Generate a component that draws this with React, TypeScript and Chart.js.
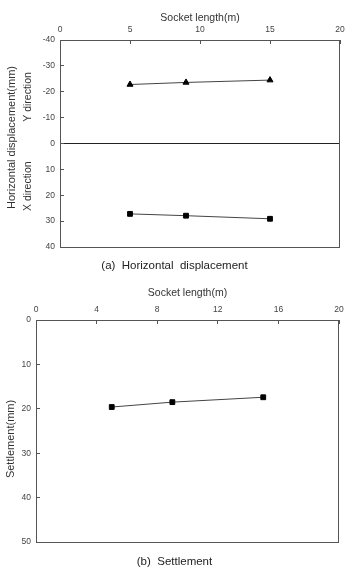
import React, { useEffect, useRef } from "react";
import { Chart, registerables } from "chart.js";

Chart.register(...registerables);

// ---- data ----
const socketLength = [5, 9, 15];
const yDirectionDisp = [-22.8, -23.6, -24.5];
const xDirectionDisp = [27.2, 27.9, 29.1];
const settlement = [19.6, 18.5, 17.4];

const xTicksA = [0, 5, 10, 15, 20];
const yTicksA = [-40, -30, -20, -10, 0, 10, 20, 30, 40];
const xTicksB = [0, 4, 8, 12, 16, 20];
const yTicksB = [0, 10, 20, 30, 40, 50];

const FONT = "'Liberation Sans', Arial, sans-serif";
const AXIS = "#555";
const TEXT = "#333";

function drawText(ctx: CanvasRenderingContext2D, text: string, x: number, y: number, size: number, rot = 0, color = TEXT) {
  ctx.save();
  ctx.translate(x, y);
  if (rot) ctx.rotate(rot);
  ctx.font = `${size}px ${FONT}`;
  ctx.fillStyle = color;
  ctx.textAlign = "center";
  ctx.textBaseline = "middle";
  ctx.fillText(text, 0, 0);
  ctx.restore();
}

function frame(chart: any) {
  const { ctx, chartArea: a } = chart;
  ctx.save();
  ctx.strokeStyle = AXIS;
  ctx.lineWidth = 1;
  ctx.strokeRect(Math.round(a.left) + 0.5, Math.round(a.top) + 0.5, Math.round(a.right - a.left) - 1, Math.round(a.bottom - a.top));
  ctx.restore();
}

function xScale(ticks: number[], title: string, titlePad: number, height: number) {
  return {
    type: "linear",
    position: "top",
    min: ticks[0],
    max: ticks[ticks.length - 1],
    afterBuildTicks: (s: any) => {
      s.ticks = ticks.map((v) => ({ value: v }));
    },
    afterFit: (s: any) => {
      s.height = height;
      s.paddingLeft = 0;
      s.paddingRight = 0;
    },
    grid: { drawOnChartArea: false, drawTicks: true, tickLength: -4, tickColor: AXIS, color: AXIS },
    border: { display: true, color: AXIS, width: 1 },
    ticks: { padding: 9, autoSkip: false, maxRotation: 0, color: "#444", font: { size: 8.5, family: FONT } },
    title: { display: true, text: title, color: TEXT, font: { size: 10.5, family: FONT }, padding: { top: titlePad, bottom: 0 } },
  };
}

function yScale(ticks: number[], width: number, zeroLine: boolean) {
  return {
    type: "linear",
    position: "left",
    reverse: true,
    min: ticks[0],
    max: ticks[ticks.length - 1],
    afterBuildTicks: (s: any) => {
      s.ticks = ticks.map((v) => ({ value: v }));
    },
    afterFit: (s: any) => {
      s.width = width;
      s.paddingTop = 0;
      s.paddingBottom = 0;
    },
    grid: {
      drawOnChartArea: zeroLine,
      drawTicks: true,
      tickLength: -4,
      tickColor: AXIS,
      color: (c: any) => (zeroLine && c.tick && c.tick.value === 0 ? "#222" : "rgba(0,0,0,0)"),
    },
    border: { display: true, color: AXIS, width: 1 },
    ticks: { padding: 9, autoSkip: false, color: "#444", font: { size: 8.5, family: FONT } },
  };
}

function series(ys: number[], style: string) {
  return {
    data: socketLength.map((x, i) => ({ x, y: ys[i] })),
    showLine: true,
    borderColor: "#444",
    borderWidth: 1,
    pointStyle: style,
    pointRadius: style === "triangle" ? 3.5 : 3.4,
    pointBackgroundColor: "#000",
    pointBorderColor: "#000",
    pointBorderWidth: 1,
  };
}

function ChartA() {
  const ref = useRef<HTMLCanvasElement>(null);
  useEffect(() => {
    const textPlugin = {
      id: "textA",
      afterDraw(chart: any) {
        frame(chart);
        const { ctx, chartArea: a } = chart;
        const ys = chart.scales.y;
        const mid = (a.top + a.bottom) / 2;
        drawText(ctx, "Horizontal displacement(mm)", 12.3, mid - 6, 11, -Math.PI / 2);
        drawText(ctx, "Y direction", 27.7, ys.getPixelForValue(-18), 10.5, -Math.PI / 2);
        drawText(ctx, "X direction", 27.7, ys.getPixelForValue(16.5), 10.5, -Math.PI / 2);
        drawText(ctx, "(a)  Horizontal  displacement", 174.5, chart.height - 14.3, 11.5, 0, "#222");
      },
    };
    const chart = new Chart(ref.current!, {
      type: "scatter",
      data: { datasets: [series(yDirectionDisp, "triangle"), series(xDirectionDisp, "rect")] as any },
      options: {
        responsive: false,
        animation: false,
        layout: { padding: { left: 0, top: 0, right: 4, bottom: 33 } },
        plugins: { legend: { display: false }, tooltip: { enabled: false } },
        scales: {
          x: xScale(xTicksA, "Socket length(m)", 12, 40) as any,
          y: yScale(yTicksA, 60, true) as any,
        },
      },
      plugins: [textPlugin],
    });
    return () => chart.destroy();
  }, []);
  return <canvas ref={ref} width={345} height={280} style={{ display: "block" }} />;
}

function ChartB() {
  const ref = useRef<HTMLCanvasElement>(null);
  useEffect(() => {
    const textPlugin = {
      id: "textB",
      afterDraw(chart: any) {
        frame(chart);
        const { ctx, chartArea: a } = chart;
        const mid = (a.top + a.bottom) / 2;
        drawText(ctx, "Settlement(mm)", 11.2, mid + 8, 11, -Math.PI / 2);
        drawText(ctx, "(b)  Settlement", 174.5, chart.height - 5.7, 11.5, 0, "#222");
      },
    };
    const chart = new Chart(ref.current!, {
      type: "scatter",
      data: { datasets: [series(settlement, "rect")] as any },
      options: {
        responsive: false,
        animation: false,
        layout: { padding: { left: 0, top: 0, right: 6, bottom: 26 } },
        plugins: { legend: { display: false }, tooltip: { enabled: false } },
        scales: {
          x: xScale(xTicksB, "Socket length(m)", 6.4, 40) as any,
          y: yScale(yTicksB, 36, false) as any,
        },
      },
      plugins: [textPlugin],
    });
    return () => chart.destroy();
  }, []);
  return <canvas ref={ref} width={345} height={288} style={{ display: "block" }} />;
}

export default function App() {
  return (
    <div style={{ position: "absolute", left: 0, top: 0, width: 345, height: 568, background: "#fff" }}>
      <ChartA />
      <ChartB />
    </div>
  );
}
